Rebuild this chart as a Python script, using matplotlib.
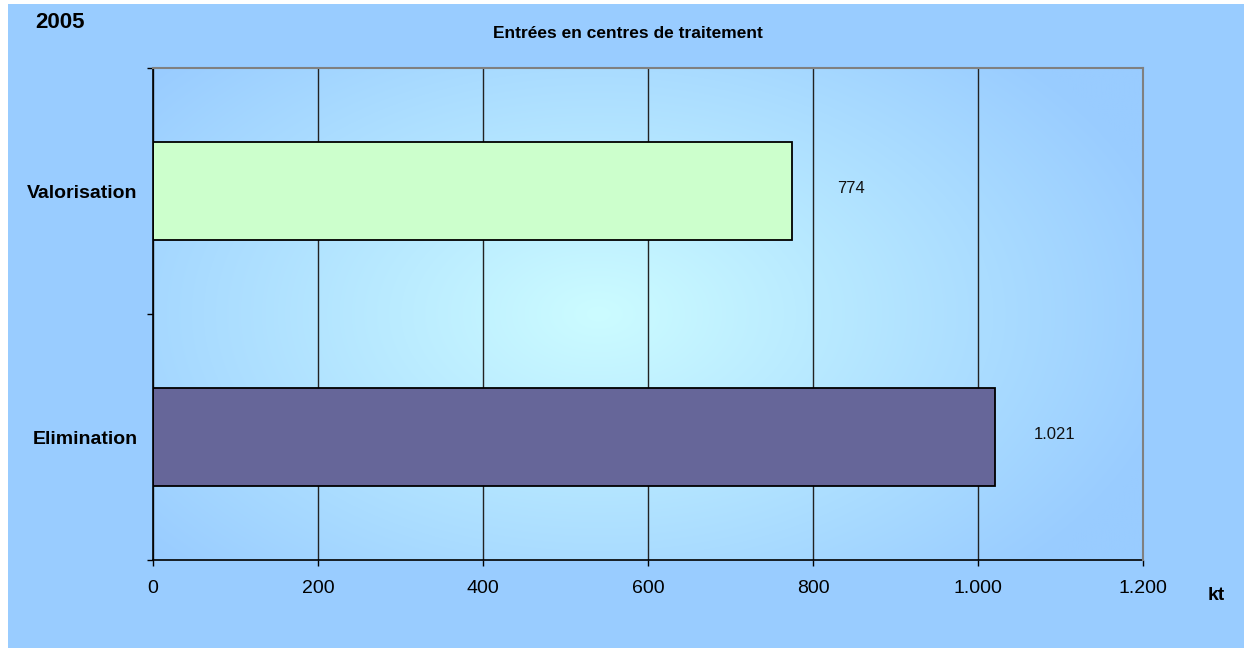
import numpy as np
import matplotlib.pyplot as plt
from matplotlib.patches import Rectangle
from matplotlib.colors import to_rgb

plt.rcParams['font.family'] = ['Liberation Sans', 'DejaVu Sans']

categories = ['Elimination', 'Valorisation']
values = [1021, 774]
bar_colors = ['#666699', '#CCFFCC']
xticks = [0, 200, 400, 600, 800, 1000, 1200]


def fmt(v):
    return f"{v:,}".replace(',', '.')


W, H = 1244, 648
fig = plt.figure(figsize=(W / 100, H / 100), dpi=100)
fig.patch.set_facecolor('white')
fig.patches.append(Rectangle((8 / W, 0), 1, 1 - 4 / H, transform=fig.transFigure,
                             facecolor='#99CCFF', edgecolor='none', zorder=-10))

ax = fig.add_axes([153 / W, 88 / H, 990 / W, 492 / H])
ax.set_facecolor('none')

# radial gradient inside the plot area
nx, ny = 300, 150
gx, gy = np.meshgrid(np.linspace(0, 1, nx), np.linspace(0, 1, ny))
d = np.sqrt(((gx - 0.45) / 0.6) ** 2 + ((gy - 0.5) / 0.75) ** 2)
d = np.clip(d, 0, 1)
c0 = np.array(to_rgb('#CCFCFF'))
c1 = np.array(to_rgb('#99CCFF'))
img = c0 + (c1 - c0) * d[..., None]
ax.imshow(img, extent=(0, 1, 0, 1), transform=ax.transAxes, aspect='auto',
          origin='lower', zorder=0, interpolation='bilinear')

y = np.arange(len(categories))
ax.barh(y, values, height=0.4, color=bar_colors, edgecolor='black',
        linewidth=1.3, zorder=2)

for yi, v in zip(y, values):
    ax.annotate(fmt(v), (v, yi), xytext=(43, 2), textcoords='offset points',
                ha='center', va='center', fontsize=12, color='#111111')

ax.set_xlim(0, 1200)
ax.set_ylim(-0.5, 1.5)
ax.set_xticks(xticks)
ax.set_xticklabels([fmt(t) for t in xticks], fontsize=14)
ax.tick_params(axis='x', length=4.5, width=1, color='black', pad=10)

ax.set_yticks(y)
ax.set_yticklabels(categories, fontsize=14, fontweight='bold')
ax.set_yticks([-0.5, 0.5, 1.5], minor=True)
ax.tick_params(axis='y', which='major', length=0, pad=11)
ax.tick_params(axis='y', which='minor', length=4, width=1, color='black')

ax.set_axisbelow(True)
ax.grid(axis='x', color='#222222', linewidth=1)
ax.grid(axis='y', visible=False)

for s in ['left', 'bottom']:
    ax.spines[s].set_color('black')
    ax.spines[s].set_linewidth(1.2)
for s in ['top', 'right']:
    ax.spines[s].set_color('#808080')
    ax.spines[s].set_linewidth(1.5)
    ax.spines[s].set_zorder(3)

fig.text(628 / W, 1 - 33 / H, 'Entrées en centres de traitement', fontsize=12.5,
         fontweight='bold', ha='center', va='center')
fig.text(35 / W, 1 - 22 / H, '2005', fontsize=16, fontweight='bold',
         ha='left', va='center')
fig.text(1216 / W, 1 - 596 / H, 'kt', fontsize=14, fontweight='bold',
         ha='center', va='center')

fig.savefig('out.png', dpi=100)
